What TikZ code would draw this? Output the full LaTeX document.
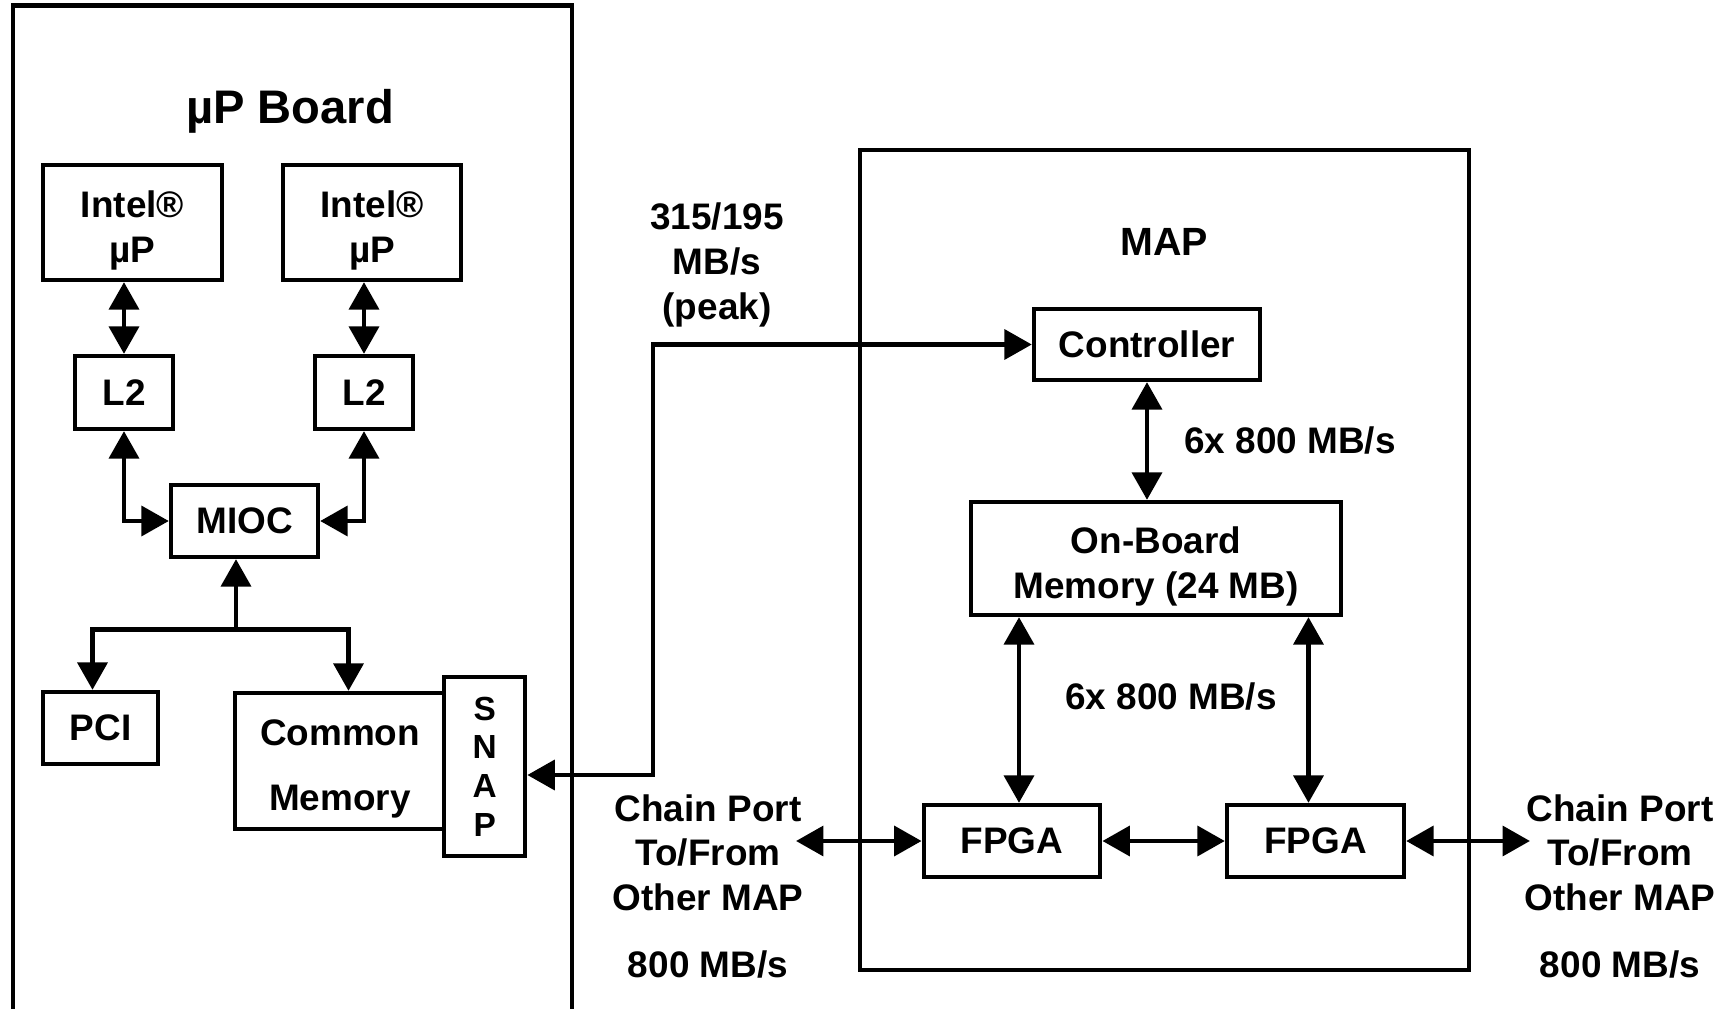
\documentclass[tikz,border=0pt]{standalone}
\usepackage{fontspec}
\setmainfont{Liberation Sans}
\usetikzlibrary{arrows.meta, positioning}

% extra room above the first line of a box label
\newcommand{\padtop}[1]{\rule{0pt}{#1}}

\begin{document}
\begin{tikzpicture}[
        x=0.01cm, y=-0.01cm,
        every node/.style={font=\fontsize{10.5}{12.7}\selectfont\bfseries, align=center},
        blk/.style={draw, line width=1.2pt, inner sep=0pt, fill=white},
        boardtitle/.style={font=\fontsize{13.4}{16}\selectfont\bfseries},
        maptitle/.style={font=\fontsize{11.2}{14}\selectfont\bfseries},
        conn/.style={line width=1.4pt, -{Triangle[length=7.8pt,width=8.4pt]}},
        dconn/.style={line width=1.4pt, {Triangle[length=7.8pt,width=8.4pt]}-{Triangle[length=7.8pt,width=8.4pt]}}
    ]
        \useasboundingbox (0,0) rectangle (1729,1009);

        % uP board (open at the bottom)
        \draw[line width=1.2pt] (13,1030) -- (13,5.5) -- (572,5.5) -- (572,1030);
        \node[boardtitle] (uptitle) at (290,111) {µP Board};

        \node[blk, minimum width=1.79cm, minimum height=1.15cm] (cpuA) at (132.5,222.5) {\padtop{12.2pt}Intel®\\µP};
        \node[blk, minimum width=1.78cm, minimum height=1.15cm] (cpuB) at (372,222.5) {\padtop{12.2pt}Intel®\\µP};
        \node[blk, minimum width=0.98cm, minimum height=0.73cm] (cacheA) at (124,392.5) {L2};
        \node[blk, minimum width=0.98cm, minimum height=0.73cm] (cacheB) at (364,392.5) {L2};
        \node[blk, minimum width=1.47cm, minimum height=0.72cm] (mioc) at (244.5,521) {MIOC};
        \node[blk, minimum width=1.15cm, minimum height=0.72cm] (pci) at (100.5,728) {PCI};
        \node[blk, minimum width=2.10cm, minimum height=1.36cm] (cmem) at (340,761) {\padtop{12pt}Common\\[5.7pt]Memory};
        \node[blk, minimum width=0.81cm, minimum height=1.79cm, font=\fontsize{9.5}{11}\selectfont\bfseries] (snap) at (484.7,766.5) {S\\N\\A\\P};

        \draw[dconn] (cacheA.north) -- (cacheA.north |- cpuA.south);
        \draw[dconn] (cacheB.north) -- (cacheB.north |- cpuB.south);
        \draw[dconn] (cacheA.south) |- (mioc.west);
        \draw[dconn] (cacheB.south) |- (mioc.east);

        \coordinate (split) at (236,629.6);
        \draw[conn] (split) -- (split |- mioc.south);
        \draw[conn] (split) -| ([xshift=-0.08cm]pci.north);
        \draw[conn] (split) -| ([xshift=0.085cm]cmem.north);

        % MAP
        \draw[line width=1.2pt] (860,150) rectangle (1469,970);
        \node[maptitle] (maptitle) at (1164,241.5) {MAP};

        \node[blk, minimum width=2.26cm, minimum height=0.71cm] (ctrl) at (1147,344.5) {Controller};
        \node[blk, minimum width=3.695cm, minimum height=1.13cm] (obm) at (1156,558.5) {\padtop{12.2pt}On-Board\\Memory (24 MB)};
        \node[blk, minimum width=1.765cm, minimum height=0.72cm] (fpgaA) at (1012,841) {FPGA};
        \node[blk, minimum width=1.77cm, minimum height=0.72cm] (fpgaB) at (1315.5,841) {FPGA};

        \node (peak) at (717,265) {315/195\\MB/s\\(peak)};
        \node (bwA) at (1290,440) {6x 800 MB/s};
        \node (bwB) at (1171,696) {6x 800 MB/s};
        \node (chainA) at (708,886.5) {Chain Port\\To/From\\Other MAP\\[6.4pt]800 MB/s};
        \node (chainB) at (1620,886.5) {Chain Port\\To/From\\Other MAP\\[6.4pt]800 MB/s};

        \coordinate (bend) at (653,775);
        \draw[dconn] (snap.east |- bend) -- (bend) |- (ctrl.west);
        \draw[dconn] (ctrl.south) -- (ctrl.south |- obm.north);
        \draw[dconn] ([xshift=0.07cm]fpgaA.north) -- ([xshift=0.07cm]fpgaA.north |- obm.south);
        \draw[dconn] ([xshift=-0.07cm]fpgaB.north) -- ([xshift=-0.07cm]fpgaB.north |- obm.south);
        \draw[dconn] (fpgaA.east) -- (fpgaB.west);

        \coordinate (portA) at (796,841);
        \coordinate (portB) at (1530,841);
        \draw[dconn] (portA) -- (fpgaA.west);
        \draw[dconn] (fpgaB.east) -- (portB);
    \end{tikzpicture}
\end{document}
